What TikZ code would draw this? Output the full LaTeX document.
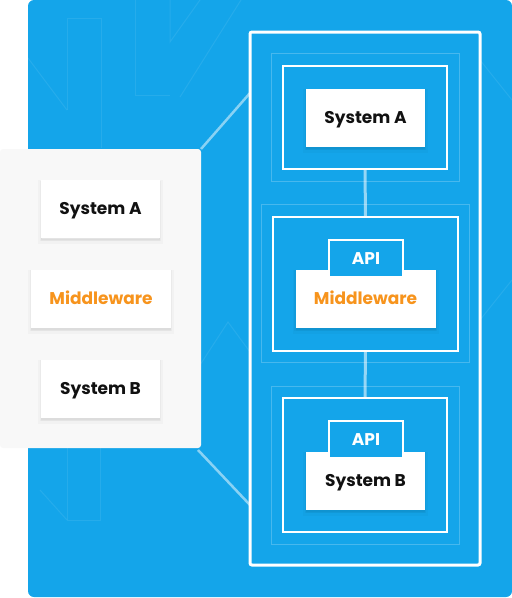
\documentclass[tikz,border=0pt]{standalone}
\usepackage{fontspec}
\setmainfont{Poppins}
\usetikzlibrary{calc,positioning}

\definecolor{skyblue}{HTML}{14A5EA}
\definecolor{panelgray}{HTML}{F8F8F8}
\definecolor{mworange}{HTML}{F7941D}
\definecolor{textblack}{HTML}{111111}

\tikzset{
  softshadow/.style={preaction={fill=black, fill opacity=0.025, draw=black, draw opacity=0.025,
      line width=6pt, transform canvas={yshift=-3pt}},
    preaction={fill=black, fill opacity=0.03, draw=black, draw opacity=0.03,
      line width=2.5pt, transform canvas={yshift=-2pt}}},
  sysbox/.style={softshadow, fill=white, minimum width=119pt, minimum height=58pt, inner sep=0pt,
    text height=11.5pt, text depth=0pt,
    font=\bfseries\fontsize{17}{19}\selectfont, text=textblack},
  mwbox/.style={sysbox, minimum width=140pt, text=mworange},
  frame/.style={draw=white, line width=2pt, inner sep=0pt},
  paleframe/.style={draw=white, draw opacity=0.22, line width=1pt, inner sep=0pt},
  apitab/.style={draw=white, line width=2pt, fill=skyblue, minimum width=74pt, minimum height=37pt,
    inner sep=0pt, text height=11.5pt, text depth=0pt, text=white,
    font=\bfseries\fontsize{17}{19}\selectfont},
  link/.style={draw=white, draw opacity=0.55, line width=3pt},
  bgline/.style={draw=white, draw opacity=0.08, line width=1pt}
}

\begin{document}
\begin{tikzpicture}[x=1pt,y=-1pt]
 \useasboundingbox (0,0) rectangle (512,598);

    % draw background
    \fill[skyblue, rounded corners=6pt] (28,0) rectangle (512,597);
    \draw[bgline] (67,110) -- (67,18) -- (101,18) -- (101,148);
    \draw[bgline] (135,0) -- (135,95) -- (170,95);
    \draw[bgline] (170,0) -- (170,42) -- (200,0);
    \draw[bgline] (28,58) -- (67,110);
    \draw[bgline] (180,97) -- (241,0);
    \draw[bgline] (67,448) -- (67,520) -- (100,520) -- (100,448);
    \draw[bgline] (40,490) -- (67,520);
    \draw[bgline] (200,365) -- (228,322) -- (250,352);
    \draw[bgline] (480,320) -- (512,280);
    \draw[bgline] (480,60) -- (512,100);

    % draw left panel
    \fill[panelgray, rounded corners=3pt] (0,149) rectangle (201,448);
    \coordinate (paneltop) at (201,149);
    \coordinate (panelbot) at (198,450);

    \node[sysbox] (lsysa) at (100.5,209) {System A};
    \node[mwbox]  (lmw)   at (101,298.5) {Middleware};
    \node[sysbox] (lsysb) at (100.5,388.5) {System B};

    % draw outer frame
    \draw[white, line width=3pt, rounded corners=2pt] (250,32) rectangle (480,565);
    \coordinate (frametop) at (250,93);
    \coordinate (framebot) at (250,505);
    \draw[link, draw opacity=0.5, line width=2.5pt] (paneltop) -- (frametop);
    \draw[link, draw opacity=0.5, line width=2.5pt] (panelbot) -- (framebot);

    % system A group
    \node[paleframe, minimum width=188pt, minimum height=128pt] at (365,117) {};
    \node[frame, minimum width=164pt, minimum height=103pt] (fsysa) at (365,117.5) {};
    \node[sysbox] (rsysa) at (365.5,117.5) {System A};

    % middleware group
    \node[paleframe, minimum width=208pt, minimum height=158pt] at (365,283) {};
    \node[frame, minimum width=185pt, minimum height=134pt] (fmw) at (365.5,284) {};
    \node[mwbox] (rmw) at (365.5,298.5) {Middleware};
    \node[apitab, anchor=north] (apimw) at (366,239) {API};

    % system B group
    \node[paleframe, minimum width=188pt, minimum height=158pt] at (365,465) {};
    \node[frame, minimum width=164pt, minimum height=134pt] (fsysb) at (365,465) {};
    \node[sysbox] (rsysb) at (365.5,480.5) {System B};
    \node[apitab, anchor=north] (apisysb) at (366,420) {API};

    % draw connectors
    \draw[link] (fsysa.south) -- (fmw.north);
    \draw[link] (fmw.south) -- (fsysb.north);

\end{tikzpicture}
\end{document}
